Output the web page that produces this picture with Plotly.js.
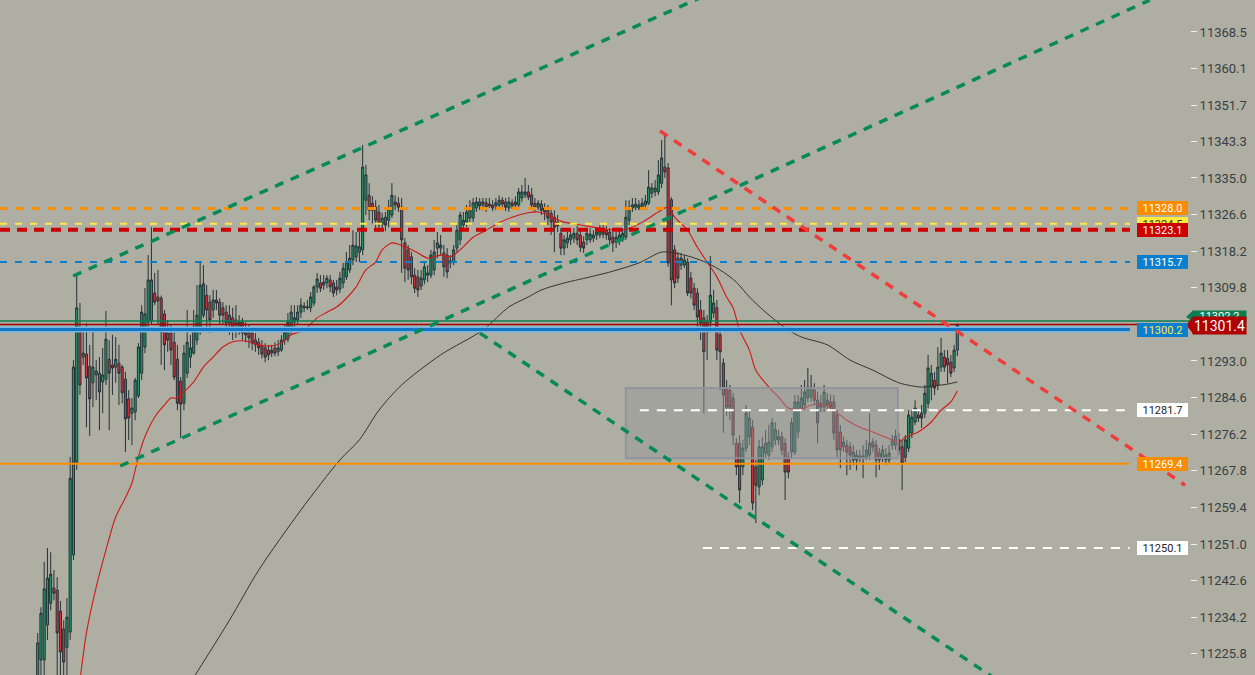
<!DOCTYPE html>
<html>
<head>
<meta charset="utf-8">
<script src="https://cdn.plot.ly/plotly-3.0.1.min.js"></script>
<style>
  html, body { margin: 0; padding: 0; background: #aeaea2; }
  #chart { width: 1255px; height: 675px; }
</style>
</head>
<body>
<div id="chart"></div>
<script>
// ---------------- DATA ----------------
const candleOpen = [
11219.0,11224.4,11224.4,11232.4,11237.4,11240.9,11240.4,11235.6,11231.5,11227.3,
11230.8,11248.5,11269.8,11300.6,11293.9,11294.6,11291.8,11288.0,11289.8,11290.2,
11288.2,11288.8,11293.4,11292.1,11291.6,11292.5,11291.6,11288.8,11284.3,11281.0,
11281.3,11285.0,11290.2,11296.2,11301.9,11302.2,11308.6,11307.7,11307.4,11303.8,
11299.4,11299.4,11297.3,11293.4,11288.4,11283.3,11290.2,11293.9,11294.8,11297.8,
11300.6,11303.5,11308.1,11306.5,11304.7,11307.0,11306.5,11305.2,11304.2,11301.7,
11302.9,11302.4,11300.1,11301.9,11300.1,11299.6,11299.4,11297.8,11297.3,11296.4,
11296.0,11295.5,11294.8,11296.0,11295.1,11295.5,11297.8,11298.0,11300.1,11301.9,
11302.4,11304.2,11305.6,11305.2,11305.2,11306.3,11310.0,11310.9,11310.4,11310.9,
11311.6,11310.9,11310.0,11309.5,11310.9,11312.3,11313.9,11316.2,11316.9,11318.0,
11318.5,11329.9,11331.0,11329.2,11328.3,11327.2,11324.4,11326.0,11325.3,11326.5,
11329.5,11329.2,11328.3,11320.1,11318.5,11316.9,11312.7,11312.3,11310.2,11311.6,
11312.7,11312.7,11313.9,11318.9,11318.9,11317.8,11317.3,11315.5,11315.7,11318.9,
11320.8,11324.2,11324.9,11325.8,11325.8,11328.1,11329.5,11328.8,11329.3,11328.6,
11328.8,11328.6,11328.8,11329.9,11329.5,11328.1,11329.3,11328.8,11328.8,11330.4,
11331.1,11331.8,11331.1,11329.2,11328.3,11329.0,11328.1,11327.6,11326.9,11326.0,
11324.9,11322.3,11318.9,11320.1,11320.8,11321.2,11322.3,11321.9,11320.3,11320.8,
11320.8,11321.2,11321.9,11321.9,11323.3,11323.0,11322.6,11321.4,11320.3,11320.8,
11321.2,11321.4,11325.3,11328.1,11328.3,11328.1,11328.3,11328.8,11329.2,11331.5,
11331.8,11331.8,11333.8,11337.5,11337.3,11330.0,11318.5,11316.6,11315.0,11315.0,
11315.7,11312.0,11309.7,11308.6,11304.7,11302.9,11301.9,11301.9,11304.0,11305.2,
11299.0,11292.5,11286.8,11286.3,11284.5,11274.1,11274.1,11268.7,11273.0,11275.6,
11277.8,11268.7,11264.1,11265.7,11271.9,11271.4,11273.3,11274.9,11274.9,11275.6,
11274.1,11270.9,11272.1,11272.1,11276.7,11282.2,11282.9,11284.5,11284.7,11286.3,
11284.0,11283.3,11282.4,11284.0,11283.6,11283.6,11280.6,11276.7,11273.3,11273.7,
11273.3,11270.3,11270.3,11270.7,11270.7,11270.7,11271.4,11274.4,11273.7,11271.9,
11270.7,11270.3,11270.3,11273.7,11273.7,11274.9,11273.3,11270.9,11273.0,11276.5,
11279.0,11280.6,11281.0,11281.0,11283.3,11287.0,11288.6,11287.5,11291.6,11293.9,
11293.6,11292.7,11291.4,11295.5];

const candleHigh = [
11230.6,11236.5,11246.9,11250.1,11249.1,11245.0,11243.4,11237.9,11233.5,11238.6,
11271.0,11293.2,11312.7,11306.3,11300.1,11301.7,11296.7,11300.6,11293.2,11293.9,
11296.0,11304.5,11297.8,11299.0,11298.5,11296.7,11292.1,11290.5,11286.3,11284.5,
11289.1,11297.1,11305.8,11309.7,11317.3,11323.7,11313.2,11313.9,11308.0,11304.7,
11302.4,11301.3,11300.1,11296.7,11289.3,11296.7,11304.7,11299.0,11304.7,11310.4,
11315.5,11315.0,11310.4,11308.1,11309.3,11309.3,11307.4,11306.5,11305.8,11305.8,
11305.2,11305.8,11303.5,11302.9,11301.9,11301.3,11300.8,11299.4,11298.3,11297.8,
11297.1,11296.7,11296.7,11297.3,11297.8,11298.9,11301.3,11304.0,11305.8,11305.8,
11305.8,11307.4,11306.5,11307.0,11308.8,11310.4,11313.2,11312.7,11312.7,11312.7,
11312.7,11311.6,11311.6,11313.4,11315.5,11318.0,11319.6,11323.0,11322.6,11322.6,
11342.6,11338.0,11333.8,11330.8,11329.9,11328.8,11327.0,11327.2,11330.0,11333.8,
11331.0,11330.6,11330.4,11321.2,11319.6,11318.0,11314.3,11313.9,11313.9,11315.7,
11315.0,11318.5,11320.8,11322.6,11321.9,11319.6,11318.9,11317.3,11319.6,11324.2,
11327.2,11327.2,11328.8,11329.9,11330.4,11330.6,11330.4,11330.4,11330.4,11330.4,
11329.9,11330.4,11331.0,11330.6,11330.4,11330.6,11330.1,11330.8,11332.7,11333.4,
11335.0,11333.4,11332.7,11330.4,11329.9,11329.9,11329.2,11328.8,11328.1,11327.6,
11326.5,11323.5,11321.9,11322.6,11323.5,11323.5,11324.0,11323.0,11321.6,11323.5,
11323.5,11323.0,11323.7,11324.2,11324.2,11324.0,11323.5,11322.6,11322.6,11323.0,
11323.5,11329.9,11329.9,11330.4,11330.4,11329.9,11330.4,11331.1,11336.8,11333.8,
11334.5,11339.1,11343.7,11345.3,11338.4,11330.6,11319.6,11318.0,11317.8,11317.3,
11316.6,11313.4,11310.9,11309.7,11307.0,11304.7,11303.5,11317.1,11309.3,11307.0,
11300.6,11293.6,11288.6,11287.5,11285.6,11275.3,11276.0,11274.9,11282.9,11281.7,
11279.4,11270.3,11274.9,11275.6,11277.1,11278.3,11279.9,11279.0,11277.2,11276.7,
11275.3,11272.1,11279.9,11285.2,11285.2,11287.5,11288.6,11291.4,11289.8,11287.9,
11285.9,11285.2,11287.5,11285.6,11285.2,11285.2,11281.7,11278.3,11275.6,11274.9,
11274.4,11273.7,11272.6,11272.6,11273.7,11274.9,11281.0,11275.3,11274.9,11273.0,
11273.7,11273.0,11273.7,11276.0,11277.2,11276.5,11274.9,11276.0,11281.7,11281.7,
11284.0,11281.7,11282.9,11287.5,11294.4,11292.1,11290.5,11296.2,11298.3,11295.5,
11295.5,11294.4,11296.7,11301.6];

const candleLow = [
11217.0,11220.5,11220.5,11229.0,11235.8,11238.1,11220.5,11220.5,11220.5,11220.5,
11229.0,11247.3,11268.0,11285.2,11292.1,11277.8,11275.8,11282.4,11284.0,11277.1,
11281.0,11287.5,11277.1,11285.2,11288.0,11282.9,11283.3,11272.1,11274.9,11273.7,
11279.4,11284.5,11288.6,11294.8,11300.1,11301.3,11305.8,11301.3,11292.1,11290.9,
11295.1,11292.1,11288.6,11281.7,11275.3,11281.7,11289.1,11291.4,11294.4,11296.7,
11299.0,11302.9,11300.1,11299.4,11302.9,11304.7,11301.3,11301.3,11300.1,11299.0,
11297.8,11298.3,11299.0,11297.8,11297.3,11296.0,11295.5,11295.1,11294.4,11293.6,
11292.7,11293.2,11293.9,11294.1,11294.1,11295.1,11296.7,11297.3,11299.0,11300.6,
11301.3,11302.9,11304.2,11304.7,11304.2,11305.6,11308.6,11308.8,11309.3,11309.7,
11308.8,11307.7,11308.1,11308.6,11309.7,11311.6,11313.2,11315.0,11315.7,11315.7,
11317.3,11326.5,11325.3,11324.6,11323.0,11322.6,11323.5,11322.8,11323.7,11325.8,
11327.6,11327.2,11313.2,11311.1,11311.6,11310.6,11308.6,11307.7,11309.3,11310.6,
11311.1,11312.0,11312.7,11316.6,11317.3,11312.3,11312.0,11314.3,11315.0,11318.0,
11319.6,11323.0,11323.7,11324.9,11324.9,11327.2,11327.6,11327.6,11327.2,11328.1,
11327.4,11327.6,11328.1,11328.1,11327.4,11327.2,11327.9,11328.1,11328.1,11329.5,
11330.4,11329.9,11327.6,11327.2,11327.6,11326.5,11325.3,11324.2,11321.9,11318.0,
11322.6,11317.3,11317.3,11318.9,11319.6,11320.1,11319.6,11318.0,11317.8,11319.6,
11320.1,11320.3,11320.8,11321.2,11321.2,11320.8,11319.6,11318.0,11318.9,11319.6,
11320.3,11320.8,11324.2,11327.2,11327.6,11327.6,11327.6,11328.1,11328.8,11330.4,
11330.8,11331.1,11332.7,11335.0,11314.6,11305.8,11309.7,11310.9,11313.9,11314.3,
11307.9,11307.4,11304.7,11300.1,11297.8,11281.0,11293.2,11300.6,11302.9,11293.2,
11286.3,11276.5,11280.4,11279.4,11273.7,11266.8,11260.4,11266.8,11272.1,11273.7,
11258.8,11255.8,11262.2,11264.5,11270.7,11270.3,11272.1,11273.7,11273.7,11271.4,
11261.1,11266.1,11270.7,11271.4,11275.3,11281.3,11281.7,11283.6,11283.6,11282.9,
11274.1,11281.3,11281.3,11281.7,11281.3,11274.9,11270.7,11268.4,11272.1,11266.8,
11268.0,11269.1,11267.9,11269.8,11266.1,11270.3,11270.3,11272.1,11266.3,11268.0,
11269.8,11269.1,11269.4,11272.6,11272.6,11271.4,11263.4,11269.8,11272.1,11275.3,
11278.3,11279.0,11277.6,11279.9,11282.2,11284.0,11285.2,11286.3,11290.5,11290.5,
11287.9,11289.3,11290.5,11294.1];

const candleClose = [
11228.3,11235.1,11240.7,11243.2,11244.1,11239.7,11230.6,11226.2,11223.9,11234.2,
11266.1,11291.6,11305.2,11287.5,11294.8,11289.1,11284.3,11291.6,11290.7,11285.9,
11289.8,11298.0,11290.2,11291.4,11293.4,11290.2,11285.7,11279.7,11279.9,11282.2,
11288.6,11296.2,11304.2,11303.8,11311.6,11311.6,11306.5,11306.8,11299.6,11296.7,
11297.8,11295.5,11289.3,11283.3,11283.1,11294.8,11297.3,11296.0,11300.8,11303.5,
11310.4,11310.7,11304.7,11302.4,11307.0,11306.3,11303.5,11303.5,11301.7,11303.5,
11300.6,11301.3,11301.9,11299.4,11299.0,11298.3,11297.1,11296.7,11296.0,11294.6,
11293.9,11294.4,11295.5,11294.8,11296.0,11297.8,11299.6,11301.9,11304.2,11302.9,
11304.2,11305.8,11305.2,11305.4,11307.7,11310.0,11311.8,11309.7,11311.1,11312.0,
11310.0,11308.6,11309.3,11312.0,11314.3,11315.7,11316.6,11319.6,11319.4,11319.2,
11337.5,11335.7,11327.6,11327.6,11325.3,11324.2,11325.8,11324.2,11328.3,11331.0,
11328.8,11328.3,11320.8,11314.3,11313.9,11312.3,11309.7,11309.3,11312.0,11314.6,
11313.2,11317.3,11318.0,11320.1,11319.6,11314.6,11313.4,11316.0,11318.5,11323.0,
11326.5,11325.3,11327.2,11328.1,11329.3,11329.5,11328.6,11329.5,11328.3,11329.0,
11328.1,11329.3,11329.9,11329.0,11328.3,11329.5,11328.6,11329.5,11331.8,11331.8,
11331.8,11330.6,11328.8,11328.3,11329.2,11327.6,11327.2,11325.8,11324.9,11323.7,
11324.0,11318.9,11320.8,11321.2,11321.9,11322.3,11320.8,11319.1,11318.9,11322.3,
11322.1,11321.9,11322.6,11322.8,11322.1,11321.9,11320.8,11320.1,11321.4,11321.9,
11322.3,11326.0,11328.3,11328.8,11329.0,11328.8,11329.2,11329.7,11332.9,11332.7,
11332.7,11335.7,11339.6,11336.4,11315.5,11311.6,11310.9,11312.0,11316.6,11316.2,
11308.6,11308.6,11305.8,11303.1,11301.7,11295.1,11299.6,11308.1,11306.3,11295.5,
11295.1,11285.2,11282.4,11282.4,11276.0,11268.7,11263.4,11273.0,11281.0,11279.9,
11260.4,11264.5,11273.3,11273.3,11274.1,11274.4,11278.8,11277.2,11275.6,11272.6,
11267.5,11267.5,11278.8,11283.6,11283.6,11284.5,11285.9,11287.0,11287.0,11284.0,
11278.8,11282.4,11285.9,11282.9,11282.4,11276.5,11272.6,11272.6,11274.4,11272.1,
11271.4,11272.1,11271.4,11271.2,11271.2,11272.6,11274.1,11273.3,11270.3,11270.3,
11272.6,11271.4,11271.9,11274.9,11275.8,11272.6,11269.6,11274.9,11280.6,11280.1,
11282.2,11279.9,11279.9,11285.6,11291.4,11290.2,11286.8,11291.6,11294.8,11291.6,
11292.1,11290.2,11295.5,11301.4];

// fast moving average (red): bar index / price
const fastMaBar = [13,15,18,21,24,27,29,31,33,36,39,41,43,45,48,51,54,57,60,64,
68,71,75,78,82,86,89,92,95,98,101,104,106,109,111,114,117,120,124,127,
130,134,138,142,146,151,154,157,161,167,173,179,183,187,191,194,196,200,203,206,
209,212,214,216,219,221,225,228,231,235,238,242,245,249,253,257,261,265,267,271,
275,278,281,283];
const fastMaVal = [11219.5,11230.6,11241.1,11249.6,11257.2,11261.6,11265.0,11271.0,11275.6,11280.1,
11282.9,11284.5,11284.5,11285.9,11288.2,11291.6,11293.9,11296.2,11297.4,11297.6,
11296.7,11296.4,11297.1,11299.0,11300.1,11302.9,11304.2,11305.4,11307.4,11310.0,
11313.9,11315.7,11318.5,11320.1,11319.8,11318.9,11317.8,11316.6,11317.3,11316.9,
11318.5,11321.4,11323.0,11324.7,11326.0,11327.0,11327.2,11326.5,11325.1,11324.2,
11323.5,11323.0,11323.7,11325.3,11327.2,11328.3,11326.0,11323.0,11319.1,11315.7,
11312.3,11307.7,11305.2,11300.1,11295.5,11290.9,11287.0,11284.7,11282.2,11282.0,
11282.9,11282.9,11281.7,11279.4,11277.8,11276.7,11275.5,11274.4,11275.5,11276.7,
11279.0,11281.7,11283.6,11286.1];

// slow moving average (dark)
const slowMaBar = [46,59,68,81,93,99,105,112,124,137,145,151,155,161,170,176,185,192,196,201,
206,211,215,219,224,231,235,243,250,257,265,272,276,280,283];
const slowMaVal = [11218.0,11233.5,11245.0,11258.8,11270.3,11274.9,11281.7,11287.5,11294.4,11300.1,
11305.4,11307.7,11309.3,11310.7,11312.3,11313.4,11315.5,11318.0,11317.8,11316.9,
11315.5,11313.4,11311.1,11307.7,11304.2,11300.1,11298.5,11296.7,11293.2,11290.9,
11288.0,11287.0,11287.3,11287.7,11288.2];

// price levels and their labels
const levelValues = [11328.0, 11324.5, 11323.1, 11315.7, 11302.2, 11301.4, 11300.2, 11281.7, 11269.4, 11250.1];
const levelLabels = ['11328.0', '11324.5', '11323.1', '11315.7', '11302.2', '11301.4', '11300.2', '11281.7', '11269.4', '11250.1'];
// start bar for the two white levels
const whiteLevelStart = [185.3, 204.7];

// drawn trend lines: [bar0, price0, bar1, price1]
const trendUpper = [10.9, 11312.5, 230.0, 11385.0];
const trendLower = [25.4, 11268.9, 342.2, 11375.8];
const trendDown = [136.1, 11299.4, 300.0, 11217.4];
const trendRed = [191.5, 11345.8, 353.1, 11264.5];
// zone rectangle: [bar0, bar1, priceLow, priceHigh]
const zoneBox = [181.0, 264.7, 11270.7, 11286.8];

// axis ticks
const tickValues = [11225.8, 11234.2, 11242.6, 11251.0, 11259.4, 11267.8, 11276.2, 11284.6, 11293.0,
  11301.4, 11309.8, 11318.2, 11326.6, 11335.0, 11343.3, 11351.7, 11360.1, 11368.5];
const tickLabels = tickValues.map(v => v.toFixed(1));

// ---------------- BUILD ----------------
const bars = candleClose.map((_, i) => i);
const BG = '#aeaea2';
const W = 1190, H = 675; // plot area in px
const px = v => v / W;           // helper for label decorations in margin
const py = v => 1 - v / H;

const traces = [
  {
    type: 'candlestick', x: bars, open: candleOpen, high: candleHigh, low: candleLow, close: candleClose,
    increasing: { line: { color: '#263238', width: 1 }, fillcolor: '#1f9a68' },
    decreasing: { line: { color: '#263238', width: 1 }, fillcolor: '#dc2f3a' },
    whiskerwidth: 0, hoverinfo: 'skip', showlegend: false
  },
  {
    type: 'scatter', mode: 'lines', x: slowMaBar, y: slowMaVal,
    line: { color: '#333333', width: 1, shape: 'spline', smoothing: 0.8 }, hoverinfo: 'skip', showlegend: false
  },
  {
    type: 'scatter', mode: 'lines', x: fastMaBar, y: fastMaVal,
    line: { color: '#d01818', width: 1.1, shape: 'spline', smoothing: 0.8 }, hoverinfo: 'skip', showlegend: false
  }
];

const lineEnd = 1130 / W;
function hline(val, color, width, dash, x1) {
  return { type: 'line', xref: 'paper', yref: 'y', x0: 0, x1: (x1 === undefined ? lineEnd : x1), y0: val, y1: val,
           line: { color: color, width: width, dash: dash }, layer: 'above' };
}
function seg(t, color, width, dash) {
  return { type: 'line', xref: 'x', yref: 'y', x0: t[0], y0: t[1], x1: t[2], y1: t[3],
           line: { color: color, width: width, dash: dash }, layer: 'above' };
}

const shapes = [
  // zone
  { type: 'rect', xref: 'x', yref: 'y', x0: zoneBox[0], x1: zoneBox[1], y0: zoneBox[2], y1: zoneBox[3],
    fillcolor: 'rgba(150,150,152,0.45)', line: { color: 'rgba(145,145,155,0.9)', width: 2 }, layer: 'above' },
  // horizontal levels
  hline(levelValues[0], '#ff8f00', 3, '8px,8px'),
  hline(levelValues[1], '#ffeb3b', 2, '7px,8px'),
  hline(levelValues[2], '#cc0000', 4, '10px,7px'),
  hline(levelValues[3], '#0b7fcf', 2, '7px,8px'),
  hline(levelValues[4], '#0b7d4f', 1.5, 'solid', 1),
  hline(levelValues[5], '#9b0000', 1.5, 'solid', 0.996),
  hline(levelValues[6], '#77b6e3', 6, 'solid'),
  hline(levelValues[6], '#1176c4', 3, 'solid'),
  { type: 'line', xref: 'x', yref: 'y', x0: whiteLevelStart[0], x1: 336, y0: levelValues[7], y1: levelValues[7],
    line: { color: '#ffffff', width: 2, dash: '9px,8px' }, layer: 'above' },
  hline(levelValues[8], '#ff8f00', 2, 'solid'),
  { type: 'line', xref: 'x', yref: 'y', x0: whiteLevelStart[1], x1: 336, y0: levelValues[9], y1: levelValues[9],
    line: { color: '#ffffff', width: 2, dash: '9px,8px' }, layer: 'above' },
  // trend lines
  seg(trendUpper, '#078a57', 3.5, '9px,8px'),
  seg(trendLower, '#078a57', 3.5, '9px,8px'),
  seg(trendDown, '#078a57', 3.5, '9px,8px'),
  seg(trendRed, '#ef3d3d', 3.5, '9px,8px'),
  // pointer tips of the live-price labels (in the right margin)
  { type: 'path', xref: 'paper', yref: 'paper',
    path: `M ${px(1193)} ${py(310.5)} L ${px(1186)} ${py(317)} L ${px(1193)} ${py(321.5)} Z`,
    fillcolor: '#0b7d4f', line: { width: 0 } },
  { type: 'path', xref: 'paper', yref: 'paper',
    path: `M ${px(1193)} ${py(316.5)} L ${px(1186)} ${py(325)} L ${px(1193)} ${py(333.5)} Z`,
    fillcolor: '#b00000', line: { width: 0 } }
];

function label(i, bg, fg) {
  return { xref: 'paper', yref: 'y', x: 1162.5 / W, y: levelValues[i], text: levelLabels[i],
           showarrow: false, xanchor: 'center', yanchor: 'middle', width: 51, height: 14,
           bgcolor: bg, borderpad: 0, borderwidth: 0,
           font: { family: 'Roboto, sans-serif', size: 11, color: fg } };
}

const annotations = [
  label(1, '#ffeb3b', '#333333'),
  label(0, '#fb8c00', '#ffffff'),
  label(2, '#cc0000', '#ffffff'),
  label(3, '#0b7fcf', '#ffffff'),
  label(6, '#0b7fcf', '#ffeb3b'),
  label(7, '#ffffff', '#222222'),
  label(8, '#fb8c00', '#ffffff'),
  label(9, '#ffffff', '#222222'),
  { xref: 'paper', yref: 'paper', x: 1219 / W, y: py(316), text: levelLabels[4], showarrow: false,
    xanchor: 'center', yanchor: 'middle', width: 53, height: 11, bgcolor: '#0b7d4f', borderpad: 0,
    font: { family: 'Roboto, sans-serif', size: 11, color: '#ffffff' } },
  { xref: 'paper', yref: 'paper', x: 1219 / W, y: py(325.2), text: levelLabels[5], showarrow: false,
    xanchor: 'center', yanchor: 'middle', width: 53, height: 17, bgcolor: '#b00000', borderpad: 0,
    font: { family: 'Roboto, sans-serif', size: 14, color: '#ffffff' } }
];

const layout = {
  width: 1255, height: 675,
  margin: { l: 0, r: 65, t: 0, b: 0, pad: 0 },
  paper_bgcolor: BG, plot_bgcolor: BG,
  showlegend: false,
  boxgap: 0.08,
  xaxis: { range: [-11.6, 354.6], visible: false, showgrid: false, zeroline: false,
           rangeslider: { visible: false }, fixedrange: true },
  yaxis: { range: [11220.94, 11375.84], side: 'right', showgrid: false, zeroline: false,
           tickmode: 'array', tickvals: tickValues, ticktext: tickLabels,
           ticks: 'outside', ticklen: 6, tickwidth: 1, tickcolor: '#eeeeee',
           showline: false, fixedrange: true,
           tickfont: { family: 'Roboto, sans-serif', size: 13, color: '#3a3f44' } },
  shapes: shapes,
  annotations: annotations
};

Plotly.newPlot('chart', traces, layout, { displayModeBar: false, staticPlot: true });
</script>
</body>
</html>
